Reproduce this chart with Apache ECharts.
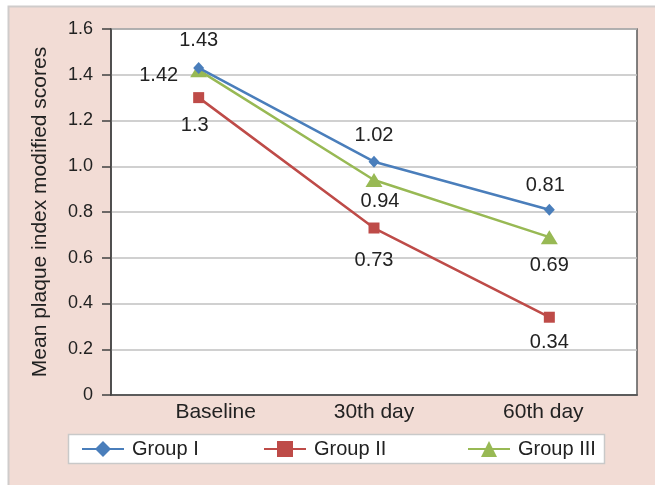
<!DOCTYPE html>
<html>
<head>
<meta charset="utf-8">
<script src="https://cdn.jsdelivr.net/npm/echarts@6/dist/echarts.min.js"></script>
<style>
html,body{margin:0;padding:0;background:#fff;}
#chart{width:655px;height:485px;}
</style>
</head>
<body>
<div id="chart"></div>
<script>
var categories = ['Baseline', '30th day', '60th day'];
var groupI = [1.43, 1.02, 0.81];
var groupII = [1.3, 0.73, 0.34];
var groupIII = [1.42, 0.94, 0.69];
var yTicks = [0, 0.2, 0.4, 0.6, 0.8, 1.0, 1.2, 1.4, 1.6];
var seriesNames = ['Group I', 'Group II', 'Group III'];

// label offsets / paddings (style only)
var offI = [[0, -27], [0, -26], [-4, -24]];
var offII = [[-4, 28], [0, 32], [0, 25]];
var offIII = [[-40, 5], [6, 22], [0, 28]];
var catPad = [[0, 0, 0, 34], [0, 0, 0, 0], [0, 12, 0, 0]];

function withLabels(vals, offs) {
  return vals.map(function (v, i) {
    return {value: v, label: {offset: offs[i]}};
  });
}

var chart = echarts.init(document.getElementById('chart'), null, {renderer: 'canvas'});
var FONT = 'Liberation Sans, Arial, sans-serif';
var labelBase = {show: true, position: 'inside', fontSize: 20, color: '#222', fontFamily: FONT};

var option = {
  backgroundColor: '#ffffff',
  animation: false,
  graphic: [
    {type: 'rect', z: -10, silent: true,
     shape: {x: 8.5, y: 6.5, width: 700, height: 500},
     style: {fill: '#f2dcd5', stroke: '#cfcccb', lineWidth: 2}},
    {type: 'rect', z: -5, silent: true,
     shape: {x: 68.5, y: 434.5, width: 536, height: 29},
     style: {fill: '#ffffff', stroke: '#c9c9c9', lineWidth: 1.5}}
  ],
  grid: {
    left: 111, right: 18, top: 29, bottom: 90,
    show: true, backgroundColor: '#ffffff', borderColor: '#5a5a5a', borderWidth: 1.5,
    containLabel: false
  },
  legend: [
    {data: [seriesNames[0]], left: 81, top: 439},
    {data: [seriesNames[1]], left: 263, top: 439},
    {data: [seriesNames[2]], left: 467, top: 439}
  ].map(function (l) {
    l.itemWidth = 42; l.itemHeight = 20; l.padding = 0;
    l.textStyle = {fontSize: 20, color: '#222', fontFamily: FONT, padding: [0, 0, 0, 3]};
    return l;
  }),
  xAxis: {
    type: 'category',
    data: categories.map(function (c, i) { return {value: c, textStyle: {padding: catPad[i]}}; }),
    boundaryGap: true,
    axisLine: {show: true, lineStyle: {color: '#404040', width: 1.5}},
    axisTick: {show: false},
    axisLabel: {fontSize: 21, color: '#222', fontFamily: FONT, margin: 7},
    splitLine: {show: false}
  },
  yAxis: {
    type: 'value', min: 0, max: 1.6, interval: 0.2,
    name: 'Mean plaque index modified scores', nameLocation: 'middle', nameGap: 60,
    nameRotate: 90,
    nameTextStyle: {fontSize: 21, color: '#222', fontFamily: FONT},
    axisLine: {show: true, lineStyle: {color: '#404040', width: 1.5}},
    axisTick: {show: true, length: 9, lineStyle: {color: '#404040', width: 1.5}},
    axisLabel: {fontSize: 18, color: '#222', fontFamily: FONT, margin: 18,
      formatter: function (v) { return v === 0 ? '0' : v.toFixed(1); }},
    splitLine: {show: true, lineStyle: {color: '#c0c0c0', width: 1.5}}
  },
  series: [
    {name: seriesNames[0], type: 'line', data: withLabels(groupI, offI),
     symbol: 'diamond', symbolSize: [11, 12], color: '#4a7ebb',
     lineStyle: {width: 2.5, color: '#4a7ebb'}, itemStyle: {color: '#4a7ebb'},
     label: labelBase, z: 4},
    {name: seriesNames[1], type: 'line', data: withLabels(groupII, offII),
     symbol: 'rect', symbolSize: 11, color: '#be4b48',
     lineStyle: {width: 2.5, color: '#be4b48'}, itemStyle: {color: '#be4b48'},
     label: labelBase, z: 2},
    {name: seriesNames[2], type: 'line', data: withLabels(groupIII, offIII),
     symbol: 'triangle', symbolSize: [17, 14], color: '#98b954',
     lineStyle: {width: 2.5, color: '#98b954'}, itemStyle: {color: '#98b954'},
     label: labelBase, z: 3}
  ]
};
chart.setOption(option);
</script>
</body>
</html>
